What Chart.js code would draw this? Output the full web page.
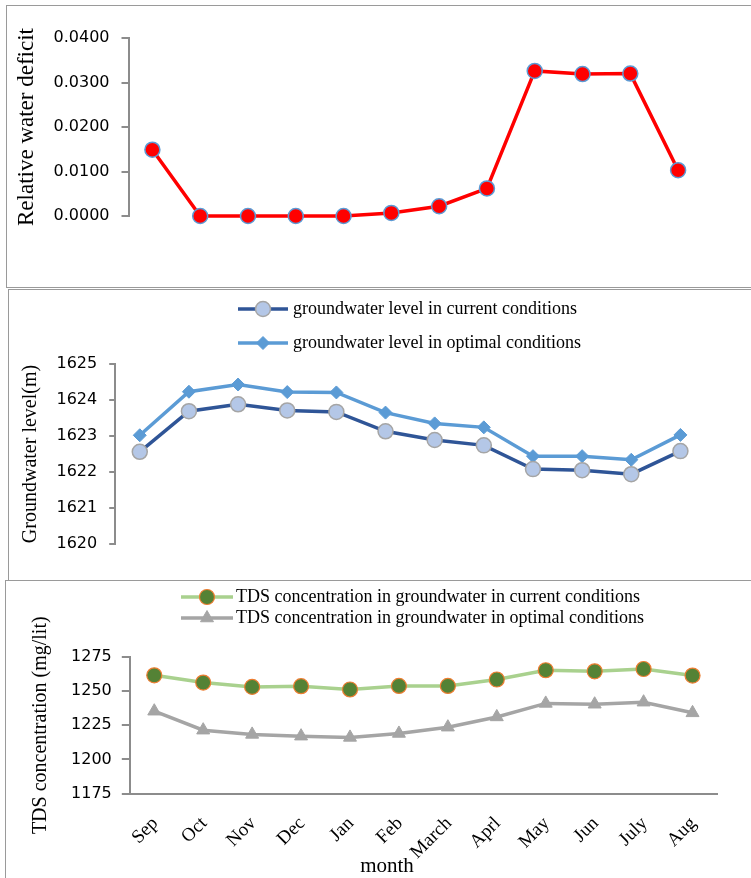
<!DOCTYPE html>
<html>
<head>
<meta charset="utf-8">
<title>Water deficit, groundwater level and TDS by month</title>
<script src="https://cdn.jsdelivr.net/npm/chart.js@4.4.1/dist/chart.umd.min.js"></script>
<style>
  html, body { margin: 0; padding: 0; background: #fff; }
  body { width: 751px; height: 878px; position: relative; overflow: hidden; }
  .frame { position: absolute; border: 1.5px solid #9a9a9a; border-right: none; box-sizing: border-box; width: 900px; }
  canvas { position: absolute; left: 0; }
</style>
</head>
<body>
<div class="frame" style="left:6px; top:5px; height:283px;"></div>
<div class="frame" style="left:8px; top:289px; height:292px;"></div>
<div class="frame" style="left:5px; top:580px; height:320px;"></div>
<canvas id="deficitChart" width="751" height="278" style="top:8px"></canvas>
<canvas id="levelChart" width="751" height="288" style="top:290px"></canvas>
<canvas id="tdsChart" width="751" height="296" style="top:582px"></canvas>
<script>
// Months of the water year
const months = ['Sep', 'Oct', 'Nov', 'Dec', 'Jan', 'Feb', 'March', 'Aprl', 'May', 'Jun', 'July', 'Aug'];

// Relative water deficit
const relativeDeficit = [0.0149, 0.0000, 0.0000, 0.0000, 0.0000, 0.0007, 0.0022, 0.0062, 0.0326, 0.0319, 0.0320, 0.0103];
const deficitTicks = [0, 0.01, 0.02, 0.03, 0.04];

// Groundwater level (m)
const levelCurrent = [1622.56, 1623.69, 1623.88, 1623.71, 1623.67, 1623.13, 1622.89, 1622.74, 1622.08, 1622.05, 1621.94, 1622.58];
const levelOptimal = [1623.02, 1624.23, 1624.43, 1624.22, 1624.21, 1623.65, 1623.35, 1623.24, 1622.44, 1622.44, 1622.34, 1623.03];

// TDS concentration (mg/lit)
const tdsCurrent = [1261.6, 1256.3, 1253.1, 1253.6, 1251.2, 1253.8, 1253.8, 1258.5, 1265.3, 1264.5, 1266.2, 1261.4];
const tdsOptimal = [1235.3, 1221.4, 1218.3, 1217.0, 1216.1, 1219.0, 1223.6, 1231.1, 1241.0, 1240.4, 1241.9, 1234.1];

const AXIS_GRAY = '#8c8c8c';
const TICK_FONT = { family: 'DejaVu Sans', size: 16 };
const SERIF = 'Liberation Serif';

// Draws a marker in the same style as a dataset's points
function drawMarker(ctx, ds, x, y) {
  const r = ds.pointRadius;
  ctx.save();
  ctx.fillStyle = ds.pointBackgroundColor;
  ctx.strokeStyle = ds.pointBorderColor;
  ctx.lineWidth = ds.pointBorderWidth;
  ctx.beginPath();
  if (ds.pointStyle === 'rectRot') {
    ctx.moveTo(x, y - r); ctx.lineTo(x + r, y); ctx.lineTo(x, y + r); ctx.lineTo(x - r, y); ctx.closePath();
  } else if (ds.pointStyle === 'triangle') {
    for (let i = 0; i < 3; i++) {
      const a = i * 2 * Math.PI / 3;
      const px = x + Math.sin(a) * r, py = y - Math.cos(a) * r;
      if (i === 0) ctx.moveTo(px, py); else ctx.lineTo(px, py);
    }
    ctx.closePath();
  } else {
    ctx.arc(x, y, r, 0, Math.PI * 2);
  }
  ctx.fill();
  if (ds.pointBorderWidth > 0) ctx.stroke();
  ctx.restore();
}

// Legend entries drawn as a short line with the series marker in its middle
const lineLegend = {
  id: 'lineLegend',
  afterDraw(chart, args, opts) {
    if (!opts || !opts.rows) return;
    const ctx = chart.ctx;
    chart.data.datasets.forEach((ds, i) => {
      const y = opts.rows[i];
      ctx.save();
      ctx.strokeStyle = ds.borderColor;
      ctx.lineWidth = ds.borderWidth;
      ctx.beginPath();
      ctx.moveTo(opts.x0, y);
      ctx.lineTo(opts.x1, y);
      ctx.stroke();
      ctx.restore();
      drawMarker(ctx, ds, (opts.x0 + opts.x1) / 2, y);
      ctx.save();
      ctx.fillStyle = '#000';
      ctx.font = opts.font;
      ctx.textBaseline = 'middle';
      ctx.textAlign = 'left';
      ctx.fillText(ds.label, opts.textX, y);
      ctx.restore();
    });
  }
};

// Free-standing caption (axis caption placed off-centre)
const caption = {
  id: 'caption',
  afterDraw(chart, args, opts) {
    if (!opts || !opts.text) return;
    const ctx = chart.ctx;
    ctx.save();
    ctx.fillStyle = '#000';
    ctx.font = opts.font;
    ctx.textAlign = 'center';
    ctx.textBaseline = 'middle';
    ctx.fillText(opts.text, opts.x, opts.y);
    ctx.restore();
  }
};

Chart.register(lineLegend, caption);

function yAxis(min, max, step, width, title, titleSize, titlePad, tickLen, tickPad, fmt) {
  return {
    min, max,
    afterFit(scale) { scale.width = width; },
    border: { display: true, color: AXIS_GRAY, width: 2 },
    grid: { display: true, drawOnChartArea: false, drawTicks: true, tickLength: tickLen, color: AXIS_GRAY, lineWidth: 2 },
    ticks: { stepSize: step, font: TICK_FONT, color: '#000', padding: tickPad, callback: fmt },
    title: { display: true, text: title, color: '#000', font: { family: SERIF, size: titleSize }, padding: { top: titlePad, bottom: 0 } }
  };
}

const common = {
  responsive: false,
  animation: false,
  devicePixelRatio: 1,
  events: []
};

// 1) Relative water deficit
new Chart(document.getElementById('deficitChart'), {
  type: 'line',
  data: {
    labels: months,
    datasets: [{
      label: 'Relative water deficit',
      data: relativeDeficit,
      borderColor: '#ff0000',
      borderWidth: 3.5,
      pointStyle: 'circle',
      pointRadius: 7.5,
      pointBackgroundColor: '#ff0000',
      pointBorderColor: '#5b9bd5',
      pointBorderWidth: 1.5,
      clip: false
    }]
  },
  options: Object.assign({}, common, {
    layout: { padding: { left: 0, right: 49, top: 30, bottom: 70 } },
    plugins: { legend: { display: false }, tooltip: { enabled: false } },
    scales: {
      x: { type: 'category', offset: true, display: false },
      y: Object.assign(yAxis(0, 0.04, 0.01, 128.5, 'Relative water deficit', 23, 13, 7, 12,
        v => Number(v).toFixed(4)), { afterBuildTicks(scale) { scale.ticks = deficitTicks.map(v => ({ value: v })); } })
    }
  })
});

// 2) Groundwater level
new Chart(document.getElementById('levelChart'), {
  type: 'line',
  data: {
    labels: months,
    datasets: [{
      label: 'groundwater level in current conditions',
      data: levelCurrent,
      borderColor: '#2f5597',
      borderWidth: 3.5,
      pointStyle: 'circle',
      pointRadius: 7.5,
      pointBackgroundColor: '#b4c7e7',
      pointBorderColor: '#a5a5a5',
      pointBorderWidth: 1.5,
      clip: false
    }, {
      label: 'groundwater level in optimal conditions',
      data: levelOptimal,
      borderColor: '#5b9bd5',
      borderWidth: 3.5,
      pointStyle: 'rectRot',
      pointRadius: 6.5,
      pointBackgroundColor: '#5b9bd5',
      pointBorderColor: '#5b9bd5',
      pointBorderWidth: 1,
      clip: false
    }]
  },
  options: Object.assign({}, common, {
    layout: { padding: { left: 0, right: 46, top: 74, bottom: 34 } },
    plugins: {
      legend: { display: false }, tooltip: { enabled: false },
      lineLegend: { rows: [19, 53], x0: 238, x1: 288, textX: 293, font: '18px "' + SERIF + '"' }
    },
    scales: {
      x: { type: 'category', offset: true, display: false },
      y: yAxis(1620, 1625, 1, 115.2, 'Groundwater level(m)', 20, 19, 6, 12)
    }
  })
});

// 3) TDS concentration
new Chart(document.getElementById('tdsChart'), {
  type: 'line',
  data: {
    labels: months,
    datasets: [{
      label: 'TDS concentration in groundwater in current conditions',
      data: tdsCurrent,
      borderColor: '#a9d18e',
      borderWidth: 3.5,
      pointStyle: 'circle',
      pointRadius: 7.5,
      pointBackgroundColor: '#548235',
      pointBorderColor: '#ed7d31',
      pointBorderWidth: 1.2,
      clip: false
    }, {
      label: 'TDS concentration in groundwater in optimal conditions',
      data: tdsOptimal,
      borderColor: '#a5a5a5',
      borderWidth: 3.5,
      pointStyle: 'triangle',
      pointRadius: 7.5,
      pointBackgroundColor: '#a5a5a5',
      pointBorderColor: '#a5a5a5',
      pointBorderWidth: 1,
      clip: false
    }]
  },
  options: Object.assign({}, common, {
    layout: { padding: { left: 0, right: 34, top: 75, bottom: 0 } },
    plugins: {
      legend: { display: false }, tooltip: { enabled: false },
      lineLegend: { rows: [15, 36], x0: 181, x1: 233, textX: 236, font: '18px "' + SERIF + '"' },
      caption: { text: 'month', x: 387, y: 284, font: '21px "' + SERIF + '"' }
    },
    scales: {
      x: {
        type: 'category', offset: true,
        afterFit(scale) { scale.height = 84.5; },
        border: { display: true, color: AXIS_GRAY, width: 2 },
        grid: { display: false, drawTicks: false },
        ticks: { autoSkip: false, minRotation: 45, maxRotation: 45, padding: 19, labelOffset: 1,
                 color: '#000', font: { family: SERIF, size: 19 } }
      },
      y: yAxis(1175, 1275, 25, 129.8, 'TDS concentration (mg/lit)', 20, 29, 8, 10)
    }
  })
});
</script>
</body>
</html>
